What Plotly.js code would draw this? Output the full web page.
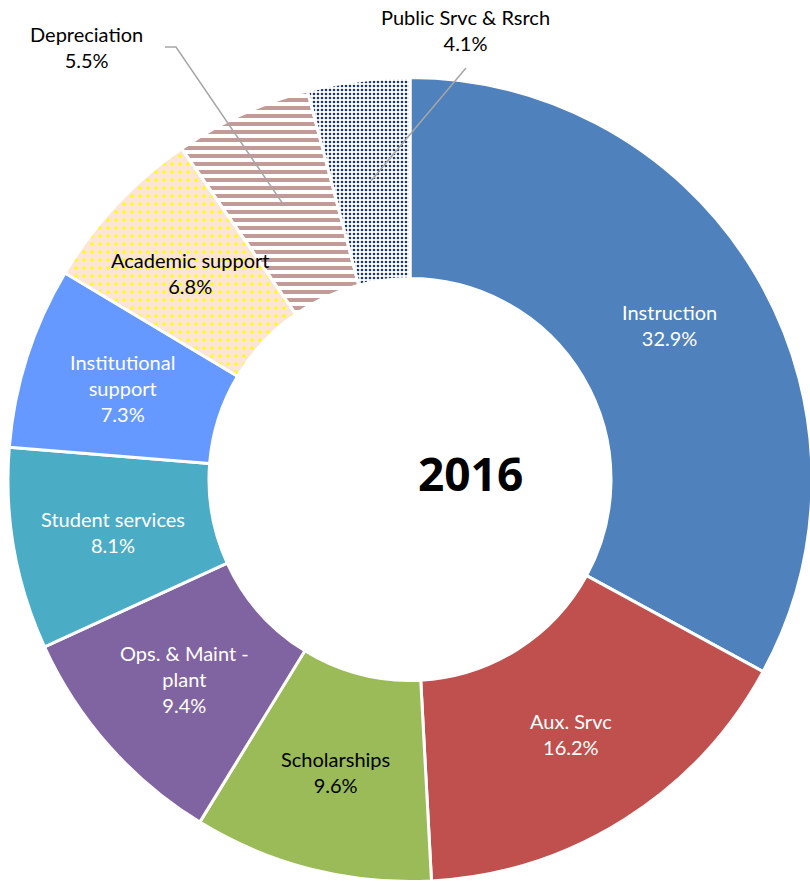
<!DOCTYPE html>
<html>
<head>
<meta charset="utf-8">
<script src="https://cdn.plot.ly/plotly-3.0.1.min.js"></script>
<style>
html,body{margin:0;padding:0;overflow:hidden;background:#fff;}
#chart{width:820px;height:884px;}
</style>
</head>
<body>
<div id="chart"></div>
<script>
// ---- data ----
const categories = ["Instruction","Aux. Srvc","Scholarships","Ops. & Maint - plant","Student services","Institutional support","Academic support","Depreciation","Public Srvc & Rsrch"];
const displayLabels = ["Instruction","Aux. Srvc","Scholarships","Ops. & Maint -<br>plant","Student services","Institutional<br>support","Academic support","Depreciation","Public Srvc & Rsrch"];
const values = [32.9,16.2,9.6,9.4,8.1,7.3,6.8,5.5,4.1];
const centerTitle = "2016";
const outsideLabels = ["Depreciation","Public Srvc & Rsrch"];

// ---- styles ----
const W = 820, H = 884;
const fillColors = ["#4f81bd","#c0504d","#9bbb59","#8064a2","#4bacc6","#6699ff","#fce4d6","#ffffff","#ffffff"];
const patShapes  = ["","","","","","",".","-","."];
const patFg      = ["","","","","","","#ffff00","#c29b98","#1f3864"];
const patSize    = [8,8,8,8,8,8,8,8,4];
const patSolid   = [0.3,0.3,0.3,0.3,0.3,0.3,0.15,0.5,0.35];
const textColors = ["#ffffff","#ffffff","#000000","#ffffff","#ffffff","#ffffff","#000000","#000000","#000000"];

const FONT = "Lato, 'Noto Sans', sans-serif";
const FSIZE = 20;
const cx = 410, cy = 479.5, R = 402, hole = 0.5;

const trace = {
  type: "pie",
  labels: categories,
  values: values,
  textinfo: "none",
  sort: false,
  direction: "clockwise",
  rotation: 0,
  hole: hole,
  hoverinfo: "label+percent",
  domain: {x: [(cx-R)/W, (cx+R)/W], y: [1-(cy+R)/H, 1-(cy-R)/H]},
  marker: {
    colors: fillColors,
    line: {color: "#ffffff", width: 3},
    pattern: {
      shape: patShapes,
      fgcolor: patFg,
      bgcolor: fillColors,
      size: patSize,
      solidity: patSolid,
      fillmode: "replace"
    }
  },
  showlegend: false
};

// label positions computed from data (slice mid-angles, mid-ring)
const total = values.reduce((a,b)=>a+b,0);
function midPoint(idx, rFrac){
  let cum = 0; for (let i=0;i<idx;i++) cum += values[i];
  const ang = (cum + values[idx]/2)/total * 2*Math.PI; // clockwise from top
  const r = R*rFrac;
  return [cx + r*Math.sin(ang), cy - r*Math.cos(ang)];
}
const px = x => x/W, py = y => 1 - y/H;
const ringMid = (1 + hole)/2;

const annotations = [
  {x: px(471), y: py(473), xref:"paper", yref:"paper", xanchor:"center", yanchor:"middle",
   text: "<b>"+centerTitle+"</b>", showarrow:false,
   font:{family:"'Open Sans', sans-serif", size:46, color:"#000"}}
];
categories.forEach((c,i)=>{
  if (outsideLabels.includes(c)) return;
  const p = midPoint(i, ringMid);
  annotations.push({x: px(p[0]), y: py(p[1]), xref:"paper", yref:"paper", xanchor:"center", yanchor:"middle",
    text: displayLabels[i]+"<br>"+values[i].toFixed(1)+"%", showarrow:false,
    font:{family:FONT, size:FSIZE, color:textColors[i]}});
});

const iDep = categories.indexOf("Depreciation");
const iPub = categories.indexOf("Public Srvc & Rsrch");
const pDep = midPoint(iDep, ringMid);
const pPub = midPoint(iPub, ringMid);

annotations.push(
  {x: px(86), y: py(47), xref:"paper", yref:"paper", xanchor:"center", yanchor:"middle",
   text: displayLabels[iDep]+"<br>"+values[iDep].toFixed(1)+"%", showarrow:false,
   font:{family:FONT, size:FSIZE, color:"#000"}},
  {x: px(466), y: py(30), xref:"paper", yref:"paper", xanchor:"center", yanchor:"middle",
   text: displayLabels[iPub]+"<br>"+values[iPub].toFixed(1)+"%", showarrow:false,
   font:{family:FONT, size:FSIZE, color:"#000"}}
);

const shapes = [
  {type:"path", xref:"paper", yref:"paper",
   path: `M ${px(165)} ${py(47)} L ${px(176)} ${py(47)} L ${px(pDep[0])} ${py(pDep[1])}`,
   line:{color:"#a6a6a6", width:1.5}},
  {type:"path", xref:"paper", yref:"paper",
   path: `M ${px(466)} ${py(68)} L ${px(pPub[0])} ${py(pPub[1])}`,
   line:{color:"#a6a6a6", width:1.5}}
];

const layout = {
  width: W, height: H,
  margin: {l:0, r:0, t:0, b:0},
  paper_bgcolor: "#ffffff",
  annotations: annotations,
  shapes: shapes
};

Plotly.newPlot("chart", [trace], layout, {displayModeBar:false, staticPlot:true});
</script>
</body>
</html>
